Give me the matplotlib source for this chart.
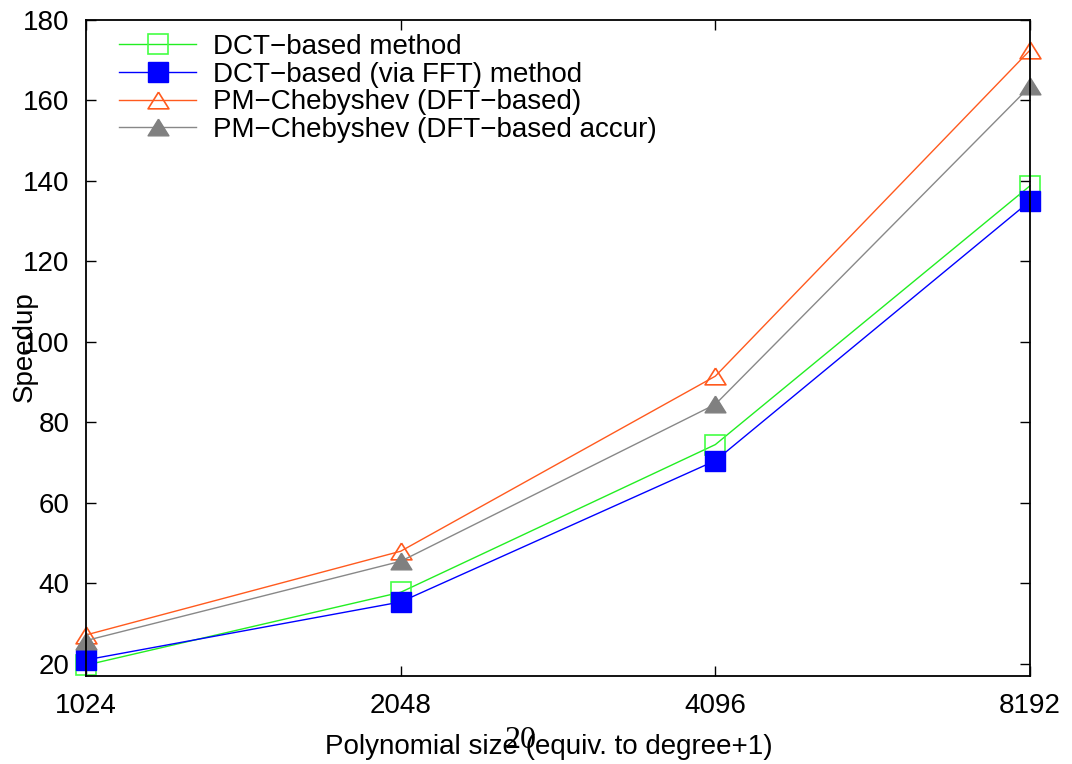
import matplotlib
matplotlib.use("Agg")
import matplotlib.pyplot as plt
from matplotlib.ticker import FixedLocator, NullLocator

plt.rcParams['font.family'] = ['Liberation Sans', 'DejaVu Sans']

sizes = [1024, 2048, 4096, 8192]
dct = [19.7, 37.8, 74.5, 138.8]
dct_fft = [21.0, 35.4, 70.5, 135.0]
pm_dft = [27.2, 48.0, 91.5, 172.5]
pm_accur = [25.8, 45.5, 84.5, 163.5]

labels = ['DCT\u2212based method', 'DCT\u2212based (via FFT) method',
          'PM\u2212Chebyshev (DFT\u2212based)', 'PM\u2212Chebyshev (DFT\u2212based accur)']

# flatter triangle like gnuplot's
tri = [(0, 0.8), (-1, -0.8), (1, -0.8), (0, 0.8)]

fig = plt.figure(figsize=(10.72, 7.64), dpi=100)
ax = fig.add_axes([86/1072, 1 - 676/764, (1030-86)/1072, (676-20)/764])

ax.plot(sizes, dct, color='#22ee22', lw=1, marker='s', ms=14, mfc='none', mec='#44ff44', mew=1.2,
        clip_on=False, label=labels[0])
ax.plot(sizes, dct_fft, color='#0000ff', lw=1, marker='s', ms=14, mfc='#0000ff', mec='#0000ff',
        clip_on=False, label=labels[1])
ax.plot(sizes, pm_dft, color='#ff5a1e', lw=1, marker=tri, ms=15, mfc='none', mec='#ff5a1e', mew=1.2,
        clip_on=False, label=labels[2])
ax.plot(sizes, pm_accur, color='#888888', lw=1, marker=tri, ms=15, mfc='#808080', mec='#808080',
        clip_on=False, label=labels[3])

ax.set_xscale('log', base=2)
ax.set_xlim(1024, 8192)
ax.set_ylim(17, 180)
ax.xaxis.set_major_locator(FixedLocator(sizes))
ax.xaxis.set_minor_locator(NullLocator())
ax.set_xticklabels([str(s) for s in sizes])
ax.set_yticks(range(20, 181, 20))

ax.tick_params(direction='in', length=7, width=1, top=True, right=True, labelsize=20)
ax.tick_params(axis='x', pad=12)
ax.tick_params(axis='y', pad=12)
for sp in ax.spines.values():
    sp.set_linewidth(1.3)

ax.set_xlabel('Polynomial size (equiv. to degree+1)', fontsize=20, va='baseline')
ax.xaxis.set_label_coords((549 - 86) / 944, -(754 - 676) / 656)
ax.set_ylabel('Speedup', fontsize=20, va='center')
ax.yaxis.set_label_coords((25 - 86) / 944, (676 - 347) / 656)

leg = ax.legend(loc='upper left', frameon=False, fontsize=20, handlelength=2.77,
                labelspacing=0.064, borderaxespad=0, handletextpad=0.61,
                bbox_to_anchor=(22 / 944, 0.996))

# page number stamped over the x label, as in the source document
fig.text(521/1072, 1 - 741/764, '20', family=['Liberation Serif', 'DejaVu Serif'],
         fontsize=23, ha='center', va='center')

fig.savefig('out.png', dpi=100)
